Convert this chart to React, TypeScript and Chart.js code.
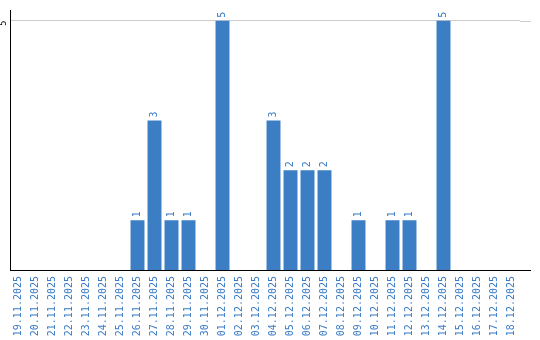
import React, { useEffect, useRef } from "react";
import { Chart, registerables } from "chart.js";

Chart.register(...registerables);

const dates: string[] = [
  "19.11.2025", "20.11.2025", "21.11.2025", "22.11.2025", "23.11.2025",
  "24.11.2025", "25.11.2025", "26.11.2025", "27.11.2025", "28.11.2025",
  "29.11.2025", "30.11.2025", "01.12.2025", "02.12.2025", "03.12.2025",
  "04.12.2025", "05.12.2025", "06.12.2025", "07.12.2025", "08.12.2025",
  "09.12.2025", "10.12.2025", "11.12.2025", "12.12.2025", "13.12.2025",
  "14.12.2025", "15.12.2025", "16.12.2025", "17.12.2025", "18.12.2025",
];

const counts: number[] = [
  0, 0, 0, 0, 0, 0, 0, 1, 3, 1,
  1, 0, 5, 0, 0, 3, 2, 2, 2, 0,
  1, 0, 1, 1, 0, 5, 0, 0, 0, 0,
];

const yTicks: number[] = [5];

const BAR = "#3b7ec4";
const TEXT_BLUE = "#3a7bc6";

const extrasPlugin = {
  id: "extras",
  afterDatasetsDraw(chart: any) {
    const { ctx } = chart;
    const meta = chart.getDatasetMeta(0);
    const data = chart.data.datasets[0].data as number[];
    ctx.save();
    ctx.font = "10px 'DejaVu Sans Mono'";
    ctx.fillStyle = TEXT_BLUE;
    ctx.textAlign = "left";
    ctx.textBaseline = "middle";
    meta.data.forEach((el: any, i: number) => {
      const v = data[i];
      if (!v) return;
      ctx.save();
      ctx.translate(el.x, el.y - 3);
      ctx.rotate(-Math.PI / 2);
      ctx.fillText(String(v), 0, 0);
      ctx.restore();
    });
    ctx.restore();
  },
  afterDraw(chart: any) {
    const { ctx, chartArea } = chart;
    const y = chart.scales.y;
    const ext = 11;
    ctx.save();
    ctx.lineWidth = 1;
    yTicks.forEach((t) => {
      const py = Math.round(y.getPixelForValue(t)) + 0.5;
      ctx.strokeStyle = "#cccccc";
      ctx.beginPath();
      ctx.moveTo(chartArea.right, py);
      ctx.lineTo(chartArea.right + ext, py);
      ctx.stroke();
    });
    const by = Math.round(chartArea.bottom) + 0.5;
    ctx.strokeStyle = "#000000";
    ctx.beginPath();
    ctx.moveTo(chartArea.right - 1, by);
    ctx.lineTo(chartArea.right + ext, by);
    ctx.stroke();
    ctx.restore();
  },
};

export default function App() {
  const ref = useRef<HTMLCanvasElement | null>(null);

  useEffect(() => {
    if (!ref.current) return;
    const chart = new Chart(ref.current, {
      type: "bar",
      data: {
        labels: dates,
        datasets: [
          {
            data: counts,
            backgroundColor: BAR,
            borderWidth: 0,
            categoryPercentage: 1,
            barPercentage: 0.82,
          },
        ],
      },
      options: {
        animation: false,
        responsive: false,
        devicePixelRatio: 1,
        layout: { padding: { top: 10, right: 20, left: 0, bottom: 0 } },
        plugins: {
          legend: { display: false },
          tooltip: { enabled: false },
          title: { display: false },
        },
        scales: {
          x: {
            type: "category",
            offset: true,
            grid: { display: false, drawTicks: false },
            border: { display: true, color: "#000000", width: 1 },
            ticks: {
              autoSkip: false,
              minRotation: 90,
              maxRotation: 90,
              padding: 6,
              color: TEXT_BLUE,
              font: { family: "'DejaVu Sans Mono'", size: 10 },
            },
            afterFit: (s: any) => {
              s.height = 70;
            },
          },
          y: {
            min: 0,
            max: 5.2,
            grid: { color: "#cccccc", drawTicks: false },
            border: { display: true, color: "#000000", width: 1 },
            ticks: {
              minRotation: 90,
              maxRotation: 90,
              padding: 6,
              color: "#000000",
              font: { family: "'DejaVu Sans'", size: 8 },
            },
            afterBuildTicks: (s: any) => {
              s.ticks = yTicks.map((v) => ({ value: v }));
            },
            afterFit: (s: any) => {
              s.width = 10;
            },
          },
        },
      },
      plugins: [extrasPlugin],
    });
    return () => chart.destroy();
  }, []);

  return (
    <div style={{ position: "fixed", left: 0, top: 0, width: 540, height: 340, background: "#ffffff" }}>
      <canvas ref={ref} width={540} height={340} style={{ width: 540, height: 340, display: "block" }} />
    </div>
  );
}
